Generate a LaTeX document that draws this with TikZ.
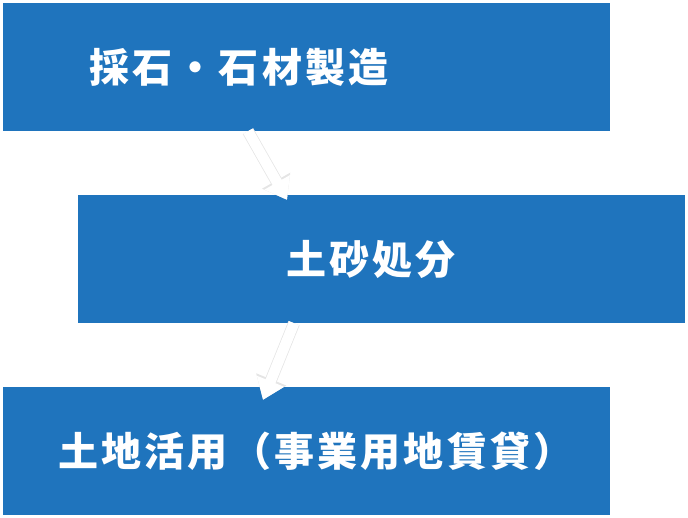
\documentclass[tikz,border=0pt]{standalone}
\usepackage{fontspec}
\newfontfamily\jpfont{Noto Sans CJK JP}[LetterSpace=8]
\usepackage{tikz}
\usetikzlibrary{positioning,arrows.meta}
\definecolor{boxblue}{RGB}{31,116,189}

\begin{document}
\begin{tikzpicture}
        [x=1pt,y=-1pt,
         box/.style={rectangle,fill=boxblue,draw=white,minimum width=608pt,minimum height=129pt,inner sep=0pt},
         lbl/.style={anchor=west,inner sep=0pt,text=white,font=\jpfont\bfseries\fontsize{40}{44}\selectfont},
         arrowline/.style={line width=12pt,gray!20,-{Triangle[width=31pt,length=22pt]}},
         arrowfill/.style={line width=10.5pt,white,-{Triangle[width=28pt,length=20pt]}}]
        \useasboundingbox (0,0) rectangle (688,518);
        \node[box] (b1) at (306,66.5) {};
        \node[box] (b2) at (381.5,258.5) {};
        \node[box] (b3) at (306,450.5) {};

        \node[lbl] (t1) at (89,67) {採石・石材製造};
        \node[lbl] (t2) at (286,259) {土砂処分};
        \node[lbl] (t3) at (58,451) {土地活用（事業用地賃貸）};

        \coordinate (s1) at ([xshift=-58pt]b1.south);
        \coordinate (e1) at ([xshift=-94.5pt,yshift=-6pt]b2.north);
        \coordinate (s2) at ([xshift=-87.5pt]b2.south);
        \coordinate (e2) at ([xshift=-43pt,yshift=-14pt]b3.north);

        \foreach \from/\to in {s1/e1, s2/e2}
        {
            \draw[arrowline] (\from) -- (\to);
            \draw[arrowfill] (\from) -- (\to);
        }

      \end{tikzpicture}
\end{document}
